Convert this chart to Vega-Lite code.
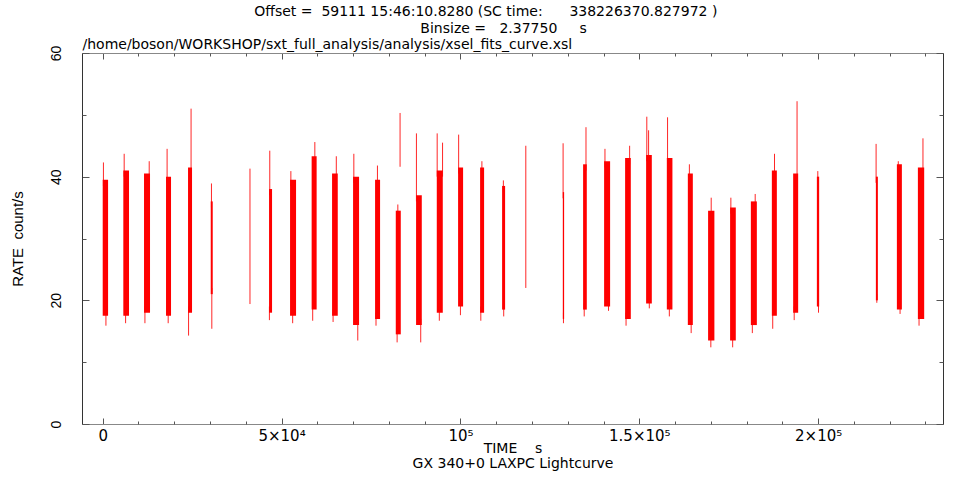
{
  "$schema": "https://vega.github.io/schema/vega-lite/v6.json",
  "width": 861,
  "height": 371,
  "autosize": {"type": "none"},
  "padding": {"left": 82, "top": 53, "right": 10, "bottom": 54},
  "background": "white",
  "config": {
    "view": {"stroke": null},
    "font": "DejaVu Sans",
    "axis": {"grid": false, "ticks": true, "domainColor": "#555", "tickColor": "#555", "tickWidth": 1, "labelColor": "black", "titleColor": "black", "titleFontWeight": "normal"},
    "axisLeft": {"labelAngle": 270}
  },
  "title": {
    "text": ["Offset =\u00a0 59111 15:46:10.8280 (SC time:\u00a0\u00a0\u00a0\u00a0\u00a0 338226370.827972 )\u00a0\u00a0\u00a0\u00a0\u00a0\u00a0\u00a0\u00a0\u00a0\u00a0\u00a0\u00a0\u200b", "Binsize =\u00a0\u00a0 2.37750\u00a0\u00a0\u00a0\u00a0 s\u00a0\u00a0\u00a0\u00a0\u200b"],
    "font": "DejaVu Sans",
    "fontSize": 14,
    "fontWeight": "normal",
    "color": "black",
    "anchor": "middle",
    "lineHeight": 16.5,
    "offset": 2
  },
  "datasets": {
    "bands": [
      {"t0": 0, "t1": 1500, "clo": 17.5, "chi": 39.5},
      {"t0": 5760, "t1": 7353, "clo": 17.5, "chi": 41},
      {"t0": 11548, "t1": 13225, "clo": 18, "chi": 40.5},
      {"t0": 17699, "t1": 19097, "clo": 17.5, "chi": 40},
      {"t0": 23851, "t1": 24969, "clo": 18, "chi": 41.5},
      {"t0": 30197, "t1": 30757, "clo": 21, "chi": 36},
      {"t0": 46499, "t1": 47338, "clo": 18, "chi": 38},
      {"t0": 52370, "t1": 54048, "clo": 17.5, "chi": 39.5},
      {"t0": 58405, "t1": 59803, "clo": 18.5, "chi": 43.3},
      {"t0": 64114, "t1": 65707, "clo": 17.5, "chi": 40.5},
      {"t0": 69985, "t1": 71663, "clo": 16, "chi": 40},
      {"t0": 76137, "t1": 77535, "clo": 17, "chi": 39.5},
      {"t0": 81924, "t1": 83322, "clo": 14.5, "chi": 34.5},
      {"t0": 87601, "t1": 89195, "clo": 16, "chi": 37},
      {"t0": 93388, "t1": 95066, "clo": 18, "chi": 41},
      {"t0": 99344, "t1": 100742, "clo": 19, "chi": 41.5},
      {"t0": 105495, "t1": 106614, "clo": 18, "chi": 41.5},
      {"t0": 111646, "t1": 112485, "clo": 18.5, "chi": 38.5},
      {"t0": 128619, "t1": 128982, "clo": 17, "chi": 37.5},
      {"t0": 134290, "t1": 135325, "clo": 18.5, "chi": 42},
      {"t0": 140162, "t1": 141840, "clo": 19, "chi": 42.5},
      {"t0": 146034, "t1": 147627, "clo": 17, "chi": 43},
      {"t0": 151905, "t1": 153499, "clo": 19.5, "chi": 43.5},
      {"t0": 157696, "t1": 159261, "clo": 18.5, "chi": 43},
      {"t0": 163569, "t1": 164967, "clo": 16, "chi": 40.5},
      {"t0": 169231, "t1": 170992, "clo": 13.5, "chi": 34.5},
      {"t0": 175383, "t1": 176976, "clo": 13.5, "chi": 35},
      {"t0": 181184, "t1": 182862, "clo": 16, "chi": 36},
      {"t0": 187056, "t1": 188454, "clo": 17.5, "chi": 41},
      {"t0": 193011, "t1": 194410, "clo": 18, "chi": 40.5},
      {"t0": 199638, "t1": 200281, "clo": 19, "chi": 40},
      {"t0": 216136, "t1": 216694, "clo": 20, "chi": 40},
      {"t0": 222007, "t1": 223405, "clo": 18.5, "chi": 42},
      {"t0": 227879, "t1": 229640, "clo": 17, "chi": 41.5}
    ],
    "spikes": [
      {"t": 200, "y": 38.5, "y2": 42.3}, {"t": 900, "y": 15.9, "y2": 18.5},
      {"t": 6000, "y": 40, "y2": 43.7}, {"t": 6400, "y": 16.3, "y2": 18.5},
      {"t": 13000, "y": 39.5, "y2": 42.5}, {"t": 11800, "y": 16.3, "y2": 19},
      {"t": 18000, "y": 39, "y2": 44.5}, {"t": 18300, "y": 16.3, "y2": 18.5},
      {"t": 24700, "y": 40.5, "y2": 51.0}, {"t": 24000, "y": 14.3, "y2": 19},
      {"t": 30400, "y": 35, "y2": 38.9}, {"t": 30500, "y": 15.4, "y2": 22},
      {"t": 41166, "y": 19.4, "y2": 41.3},
      {"t": 46700, "y": 37, "y2": 44.2}, {"t": 46600, "y": 16.8, "y2": 19},
      {"t": 52600, "y": 38.5, "y2": 40.9}, {"t": 53100, "y": 16.3, "y2": 18.5},
      {"t": 59300, "y": 42.3, "y2": 45.6}, {"t": 58700, "y": 16.7, "y2": 19.5},
      {"t": 65300, "y": 39.5, "y2": 43.3}, {"t": 64400, "y": 16.5, "y2": 18.5},
      {"t": 70200, "y": 39, "y2": 43.7}, {"t": 71300, "y": 13.5, "y2": 17},
      {"t": 76800, "y": 38.5, "y2": 41.8}, {"t": 76400, "y": 15.9, "y2": 18},
      {"t": 82500, "y": 33.5, "y2": 35.5}, {"t": 82300, "y": 13.2, "y2": 15.5}, {"t": 83125, "y": 41.6, "y2": 50.3},
      {"t": 87700, "y": 36, "y2": 47.0}, {"t": 88900, "y": 13.2, "y2": 17},
      {"t": 93500, "y": 40, "y2": 47.0}, {"t": 94100, "y": 16.7, "y2": 19}, {"t": 95000, "y": 40, "y2": 45.5},
      {"t": 99500, "y": 40.5, "y2": 46.8}, {"t": 100000, "y": 17.6, "y2": 20},
      {"t": 106000, "y": 40.5, "y2": 42.5}, {"t": 105700, "y": 16.7, "y2": 19},
      {"t": 112000, "y": 37.5, "y2": 39.4}, {"t": 112100, "y": 17.4, "y2": 19.5},
      {"t": 118273, "y": 22.0, "y2": 45.0},
      {"t": 128700, "y": 36.5, "y2": 45.4}, {"t": 128800, "y": 16.3, "y2": 18},
      {"t": 135100, "y": 41, "y2": 48.0}, {"t": 134600, "y": 17.4, "y2": 19.5},
      {"t": 140400, "y": 41.5, "y2": 44.5}, {"t": 141400, "y": 18.3, "y2": 20},
      {"t": 147300, "y": 42, "y2": 45.0}, {"t": 146300, "y": 15.9, "y2": 18},
      {"t": 152100, "y": 42.5, "y2": 49.7}, {"t": 152800, "y": 18.7, "y2": 20.5}, {"t": 152600, "y": 42, "y2": 47.5},
      {"t": 157900, "y": 42, "y2": 49.6}, {"t": 158400, "y": 17.4, "y2": 19.5},
      {"t": 164000, "y": 39.5, "y2": 42.0}, {"t": 164500, "y": 14.7, "y2": 17},
      {"t": 170100, "y": 33.5, "y2": 36.6}, {"t": 170000, "y": 12.4, "y2": 14.5},
      {"t": 175600, "y": 34, "y2": 36.6}, {"t": 176100, "y": 12.4, "y2": 14.5},
      {"t": 182400, "y": 35, "y2": 37.2}, {"t": 181600, "y": 14.7, "y2": 17},
      {"t": 187800, "y": 40, "y2": 43.7}, {"t": 187300, "y": 15.4, "y2": 18.5},
      {"t": 194100, "y": 39.5, "y2": 52.2}, {"t": 193300, "y": 16.8, "y2": 19},
      {"t": 199900, "y": 39, "y2": 40.9}, {"t": 200100, "y": 18.0, "y2": 20},
      {"t": 216200, "y": 39, "y2": 45.3}, {"t": 216400, "y": 19.6, "y2": 21},
      {"t": 222400, "y": 41, "y2": 42.5}, {"t": 222900, "y": 17.8, "y2": 19.5},
      {"t": 229300, "y": 40.5, "y2": 46.2}, {"t": 228200, "y": 15.9, "y2": 18}
    ]
  },
  "layer": [
    {
      "data": {"name": "bands"},
      "mark": {"type": "rect", "color": "#ff0000"},
      "encoding": {
        "x": {
          "field": "t0", "type": "quantitative",
          "scale": {"domain": [-5790, 234900], "nice": false, "zero": false},
          "axis": {
            "orient": "bottom",
            "values": [0, 50000, 100000, 150000, 200000],
            "ticks": true, "tickSize": -6, "tickColor": "#555",
            "labelExpr": "datum.value === 0 ? '0' : datum.value === 50000 ? '5×10⁴' : datum.value === 100000 ? '10⁵' : datum.value === 150000 ? '1.5×10⁵' : '2×10⁵'",
            "labelFont": "DejaVu Sans", "labelFontSize": 15, "labelPadding": 10,
            "labelOverlap": false, "labelFlush": false,
            "domainColor": "#888",
            "title": "TIME\u00a0\u00a0\u00a0\u00a0s",
            "titleFont": "DejaVu Sans", "titleFontSize": 14, "titlePadding": -2
          }
        },
        "x2": {"field": "t1"},
        "y": {
          "field": "clo", "type": "quantitative",
          "scale": {"domain": [0, 60], "nice": false, "zero": false},
          "axis": {
            "orient": "left",
            "values": [0, 20, 40, 60],
            "ticks": true, "tickSize": -7, "tickColor": "#555",
            "labelAngle": 270,
            "labelFont": "Liberation Sans", "labelFontSize": 14, "labelPadding": 26,
            "domainColor": "#333",
            "title": "RATE\u00a0\u00a0count/s",
            "titleFont": "Liberation Sans", "titleFontSize": 15, "titlePadding": 24
          }
        },
        "y2": {"field": "chi"}
      }
    },
    {
      "data": {"name": "spikes"},
      "mark": {"type": "rule", "color": "#ff0000", "strokeWidth": 1, "opacity": 0.85},
      "encoding": {
        "x": {
          "field": "t", "type": "quantitative",
          "scale": {"domain": [-5790, 234900], "nice": false, "zero": false},
          "axis": {
            "orient": "top",
            "values": [0, 50000, 100000, 150000, 200000],
            "ticks": true, "tickSize": -6, "tickColor": "#555",
            "labels": false,
            "domainColor": "#888",
            "title": "/home/boson/WORKSHOP/sxt_full_analysis/analysis/xsel_fits_curve.xsl",
            "titleAnchor": "start", "titleAlign": "left",
            "titleFont": "DejaVu Sans", "titleFontSize": 14, "titlePadding": 1
          }
        },
        "y": {
          "field": "y", "type": "quantitative",
          "scale": {"domain": [0, 60], "nice": false, "zero": false},
          "axis": {
            "orient": "right",
            "values": [0, 20, 40, 60],
            "ticks": true, "tickSize": -7, "tickColor": "#555",
            "labels": false,
            "domainColor": "#333",
            "title": null
          }
        },
        "y2": {"field": "y2"}
      }
    },
    {
      "data": {"name": "bands"},
      "mark": {"type": "rect", "opacity": 0},
      "encoding": {
        "x": {
          "field": "t0", "type": "quantitative",
          "scale": {"domain": [-5790, 234900], "nice": false, "zero": false},
          "axis": {
            "orient": "bottom",
            "values": [10000, 20000, 30000, 40000, 60000, 70000, 80000, 90000, 110000, 120000, 130000, 140000, 160000, 170000, 180000, 190000, 210000, 220000, 230000],
            "ticks": true, "tickSize": -3, "tickColor": "#555", "labels": false, "domain": false,
            "title": "GX 340+0 LAXPC Lightcurve",
            "titleFont": "DejaVu Sans", "titleFontSize": 14, "titlePadding": 32
          }
        },
        "x2": {"field": "t1"},
        "y": {
          "field": "clo", "type": "quantitative",
          "scale": {"domain": [0, 60], "nice": false, "zero": false},
          "axis": {"orient": "left", "values": [10, 30, 50], "ticks": true, "tickSize": -4, "tickColor": "#555", "labels": false, "domain": false, "title": null}
        },
        "y2": {"field": "chi"}
      }
    },
    {
      "data": {"name": "spikes"},
      "mark": {"type": "rule", "opacity": 0},
      "encoding": {
        "x": {
          "field": "t", "type": "quantitative",
          "scale": {"domain": [-5790, 234900], "nice": false, "zero": false},
          "axis": {
            "orient": "top",
            "values": [10000, 20000, 30000, 40000, 60000, 70000, 80000, 90000, 110000, 120000, 130000, 140000, 160000, 170000, 180000, 190000, 210000, 220000, 230000],
            "ticks": true, "tickSize": -3, "tickColor": "#555", "labels": false, "domain": false, "title": null
          }
        },
        "y": {
          "field": "y", "type": "quantitative",
          "scale": {"domain": [0, 60], "nice": false, "zero": false},
          "axis": {"orient": "right", "values": [10, 30, 50], "ticks": true, "tickSize": -4, "tickColor": "#555", "labels": false, "domain": false, "title": null}
        },
        "y2": {"field": "y2"}
      }
    }
  ],
  "resolve": {"axis": {"x": "independent", "y": "independent"}}
}
